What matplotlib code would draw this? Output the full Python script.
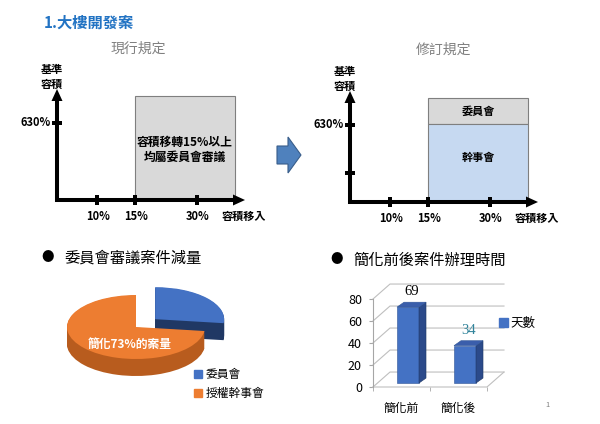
import numpy as np
import matplotlib.pyplot as plt
from matplotlib.patches import Rectangle, Polygon, Patch

plt.rcParams['font.family'] = ['Noto Sans CJK TC', 'DejaVu Sans']

# data
pie_labels = ['委員會', '授權幹事會']
pie_values = [27, 73]
pie_note = '簡化73%的案量'

bar_categories = ['簡化前', '簡化後']
bar_values = [69, 34]
bar_series = '天數'
bar_yticks = [0, 20, 40, 60, 80]

rule_xticks = ['10%', '15%', '30%']
rule_ytick = '630%'

W, H = 600, 424
fig = plt.figure(figsize=(6, 4.24), dpi=100)


def px_axes(x0, y0, x1, y1):
    # axes placed by pixel box (top-left origin)
    return fig.add_axes([x0 / W, 1 - y1 / H, (x1 - x0) / W, (y1 - y0) / H])


bg = px_axes(0, 0, W, H)
bg.set_xlim(0, W)
bg.set_ylim(H, 0)
bg.axis('off')

bg.text(44, 23, '1.大樓開發案', fontsize=11, fontweight='bold', color='#2273c3', va='center')
bg.text(138, 49, '現行規定', fontsize=10, color='#808080', ha='center', va='center')
bg.text(443, 50, '修訂規定', fontsize=10, color='#808080', ha='center', va='center')

# block arrow between the two schemes
bg.add_patch(Polygon([(277, 146), (288, 146), (288, 137), (301, 155), (288, 173), (288, 164), (277, 164)],
                     closed=True, fc='#4f81bd', ec='#385d8a', lw=0.8))


# ---- schematic panels ----
def rule_panel(ox, oy, revised):
    ax = px_axes(ox - 60, oy - 160, ox + 200, oy + 30)
    ax.set_xlim(-60, 200)
    ax.set_ylim(-30, 160)
    ax.axis('off')
    if revised:
        ax.add_patch(Rectangle((78, 78), 100, 26, fc='#d9d9d9', ec='#7f7f7f', lw=0.8))
        ax.add_patch(Rectangle((78, 0), 100, 78, fc='#c6d9f1', ec='#7f7f7f', lw=0.8))
        ax.text(128, 91, '委員會', fontsize=8, fontweight='bold', ha='center', va='center')
        ax.text(128, 44, '幹事會', fontsize=8, fontweight='bold', ha='center', va='center')
    else:
        ax.add_patch(Rectangle((78, 0), 100, 104, fc='#d9d9d9', ec='#7f7f7f', lw=0.8))
        ax.text(128, 50, '容積移轉15%以上\n均屬委員會審議', fontsize=8.5, fontweight='bold',
                ha='center', va='center', linespacing=1.25)
    ax.plot([0, 0], [-2, 100], color='black', lw=2.9, solid_capstyle='butt')
    ax.plot([-2, 177], [0, 0], color='black', lw=2.9, solid_capstyle='butt')
    ax.add_patch(Polygon([(-5.5, 99), (5.5, 99), (0, 111)], fc='black', ec='none'))
    ax.add_patch(Polygon([(176, -5.5), (176, 5.5), (188, 0)], fc='black', ec='none'))
    for xp, lab in zip([40, 78, 140], rule_xticks):
        ax.add_patch(Rectangle((xp - 2, -5), 4, 10, fc='black', ec='none'))
        ax.text(xp + 1, -16, lab, fontsize=8, fontweight='bold', ha='center', va='center')
    yts = [77, 29] if revised else [77]
    for yp in yts:
        ax.add_patch(Rectangle((-5, yp - 2), 10, 4, fc='black', ec='none'))
    ax.text(-6, 77, rule_ytick, fontsize=8, fontweight='bold', ha='right', va='center')
    ax.text(-5, 123, '基準\n容積', fontsize=8, fontweight='bold', ha='center', va='center',
            linespacing=1.15)
    ax.text(187, -16, '容積移入', fontsize=8, fontweight='bold', ha='center', va='center')


rule_panel(57, 200, False)
rule_panel(350, 202, True)

# ---- headings ----
bg.text(48, 258, '●', fontsize=9, ha='center', va='center')
bg.text(64, 258, '委員會審議案件減量', fontsize=11, va='center')
bg.text(337, 260, '●', fontsize=9, ha='center', va='center')
bg.text(353, 260, '簡化前後案件辦理時間', fontsize=11, va='center')
bg.text(547, 405, '1', fontsize=5.5, color='#808080', ha='center', va='center')

# ---- pseudo-3D pie ----
pax = px_axes(55, 278, 235, 385)
top_colors = ['#4472c4', '#ed7d31']
side_colors = ['#203864', '#b85c1e']
depth = 17 / 32
explode = [0.37, 0]
for idx in range(len(pie_values)):
    for off in np.linspace(depth, 0.02, 16):
        wedges, _ = pax.pie(pie_values, explode=explode, startangle=90, counterclock=False,
                            center=(0, -off), colors=side_colors, wedgeprops=dict(linewidth=0))
        for j, w in enumerate(wedges):
            w.set_visible(j == idx)
    wedges, _ = pax.pie(pie_values, explode=explode, startangle=90, counterclock=False,
                        center=(0, 0), colors=top_colors, wedgeprops=dict(linewidth=0))
    for j, w in enumerate(wedges):
        w.set_visible(j == idx)
pax.set_aspect('auto')
pax.set_xlim(-81 / 69, 99 / 69)
pax.set_ylim(-58 / 32, 49 / 32)
pax.axis('off')
pax.text(-0.09, -0.56, pie_note, color='white', fontsize=8.5, fontweight='bold',
         ha='center', va='center')
pax.legend(handles=[Patch(color=c) for c in top_colors], labels=pie_labels,
           loc='upper left', bbox_to_anchor=(194 / W, 1 - 368 / H), bbox_transform=fig.transFigure,
           frameon=False, fontsize=8.5, handlelength=0.7, handleheight=0.7,
           handletextpad=0.3, labelspacing=0.55, borderpad=0, borderaxespad=0)

# ---- pseudo-3D bar chart ----
bax = px_axes(373, 283, 505, 387)
bax.set_xlim(-0.5, -0.5 + 132 / 57)
bax.set_ylim(0, 104 / 1.1)
grid = '#bfbfbf'
x0, x1 = -0.5, 1.5
wx, wy = 0.298, 13.6
for v in bar_yticks:
    bax.plot([x0, x0 + wx, x1 + wx], [v, v + wy, v + wy], color=grid, lw=0.8, clip_on=False)
bax.plot([x0, x1, x1 + wx], [0, 0, wy], color=grid, lw=0.8, clip_on=False)

front, side, top = '#4472c4', '#2b4a8a', '#3a5eab'
bw = 0.386
bx, by = 0.114, 3.6
dx, dy = 0.123, 4.5
xs = np.arange(len(bar_values))
bax.bar(xs + bx, bar_values, width=bw, bottom=by, color=front, edgecolor='#2f5597', lw=0.4, zorder=3)
label_colors = ['black', '#31849b']
for i, v in enumerate(bar_values):
    l = i + bx - bw / 2
    r = l + bw
    t = by + v
    bax.add_patch(Polygon([(r, by), (r + dx, by + dy), (r + dx, t + dy), (r, t)],
                          fc=side, ec='#1f3864', lw=0.4, zorder=3))
    bax.add_patch(Polygon([(l, t), (r, t), (r + dx, t + dy), (l + dx, t + dy)],
                          fc=top, ec='#2f5597', lw=0.4, zorder=3))
    bax.annotate(str(v), (i + bx + dx / 2, t + dy), xytext=(0, 7.5), textcoords='offset points',
                 ha='center', va='center', fontsize=10.5, family='Liberation Serif',
                 color=label_colors[i])

for s in ['top', 'right']:
    bax.spines[s].set_visible(False)
bax.spines['left'].set_color('#a6a6a6')
bax.spines['left'].set_bounds(0, 80)
bax.spines['bottom'].set_visible(False)
bax.set_yticks(bar_yticks)
bax.tick_params(axis='y', length=3, color='#a6a6a6', labelsize=9, pad=5)
bax.set_xticks(xs, bar_categories)
bax.set_xticks([-0.5, 0.5, 1.5], minor=True)
bax.tick_params(axis='x', which='major', length=0, labelsize=8.5, pad=11)
bax.tick_params(axis='x', which='minor', length=3, color='#a6a6a6')
bax.patch.set_visible(False)
bax.legend([Patch(color=front)], [bar_series], loc='center left',
           bbox_to_anchor=(499 / W, 1 - 323 / H), bbox_transform=fig.transFigure,
           frameon=False, fontsize=9, handlelength=0.7, handleheight=0.7,
           handletextpad=0.2, borderpad=0, borderaxespad=0)

fig.savefig('out.png', dpi=100)
